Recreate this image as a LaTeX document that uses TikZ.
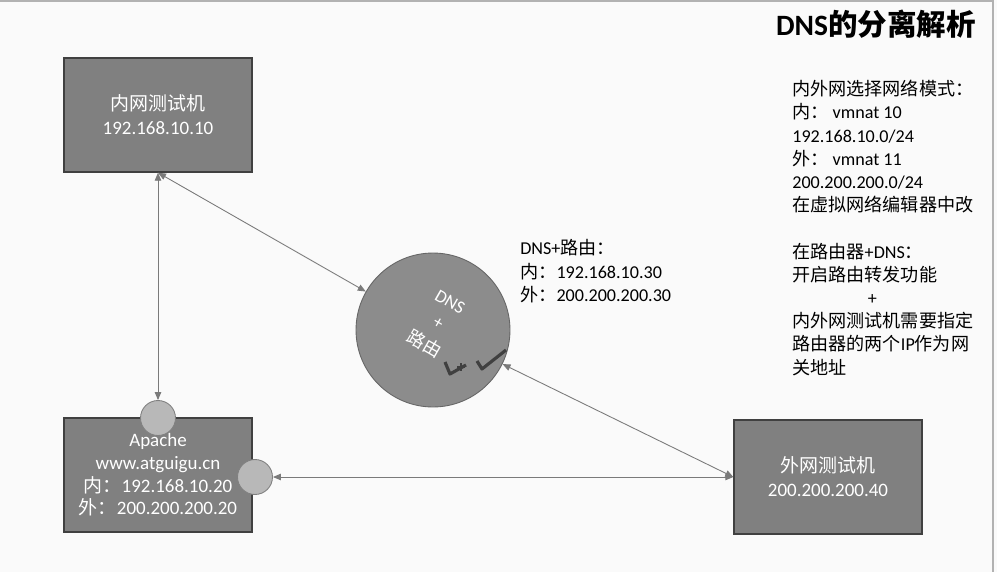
\documentclass[tikz,border=0pt]{standalone}
\usepackage{fontspec}
\setmainfont{Carlito}
\newfontfamily\cjk{Noto Sans CJK SC}
\newcommand\zh[1]{{\cjk #1}}
\usetikzlibrary{arrows.meta}
\definecolor{boxgray}{HTML}{808080}
\definecolor{linegray}{HTML}{7A7A7A}
\tikzset{
  pcbox/.style={draw=black!75, line width=0.8pt, fill=boxgray, text=white,
    minimum width=3.76cm, minimum height=2.28cm, align=center,
    font=\fontsize{10.8}{13.6}\selectfont},
  port/.style={circle, draw=boxgray, line width=0.5pt, fill=black!28, minimum size=0.7cm, inner sep=0pt},
  link/.style={draw=linegray, line width=0.5pt, {Triangle[length=1.6mm,width=1.3mm]}-{Triangle[length=1.6mm,width=1.3mm]}},
  note/.style={anchor=north west, align=left, inner sep=0pt, font=\fontsize{10.3}{13.4}\selectfont},
  intext/.style={text=white, rotate=-30, inner sep=0pt, font=\fontsize{10.3}{12}\selectfont}
}
\begin{document}
\begin{tikzpicture}[x=0.02cm,y=-0.02cm]
\fill[black!2] (0,0) rectangle (997,572);
\useasboundingbox (0,0) rectangle (997,572);
\draw[black!30, line width=0.8pt] (0,1) -- (993,1) -- (993,572);

% the three test machines
\node[pcbox] (inner) at (158,115) {\zh{内网测试机}\\192.168.10.10};
\node[pcbox, font=\fontsize{10.8}{12.9}\selectfont] (apache) at (158,475)
  {Apache\\www.atguigu.cn\\\zh{内：}192.168.10.20\\\zh{外：}200.200.200.20};
\node[pcbox] (outer) at (828,477) {\zh{外网测试机}\\200.200.200.40};

% dns + router
\node[circle, draw=black!60, line width=0.5pt, fill=black!45, minimum size=3.08cm] (dns) at (433,330) {};
\node[intext] (dnsa) at (450,302) {DNS};
\node[intext] (dnsb) at (438,323) {+};
\node[intext] (dnsc) at (425,344) {\zh{路由}};
\draw[black!75, line width=1.8pt, line join=round] (445,362) -- (450,374) -- (466,365);
\draw[black!75, line width=1.2pt] (457,367) -- (465,367) (461,363) -- (461,371);
\draw[black!75, line width=1.8pt, line join=round] (477,361) -- (482,369) -- (506,350);

\node[port] (p1) at (158,418) {};
\node[port] (p2) at (255,477) {};

% links
\draw[link] (inner.south) -- (p1.north);
\draw[link] (inner.south) -- (dns);
\draw[link] (dns) -- (outer.west);
\draw[link] (p2.east) -- (outer.west);

% texts
\node[note] (dnsinfo) at (520,239) {DNS+\zh{路由：}\\\zh{内：}192.168.10.30\\\zh{外：}200.200.200.30};
\node[anchor=north east, inner sep=0pt, font=\fontsize{16.8}{20}\selectfont\bfseries] (title) at (976,10)
  {DNS\zh{的分离解析}};
\node[note, font=\fontsize{10.3}{13.2}\selectfont] (hint) at (792,80)
  {\zh{内外网选择网络模式：}\\\zh{内：} vmnat 10\\192.168.10.0/24\\\zh{外：} vmnat 11\\200.200.200.0/24\\\zh{在虚拟网络编辑器中改}\\[13.2pt]
   \zh{在路由器}+DNS\zh{：}\\\zh{开启路由转发功能}\\\hspace*{43pt}+\\\zh{内外网测试机需要指定}\\\zh{路由器的两个}IP\zh{作为网}\\\zh{关地址}};
\end{tikzpicture}
\end{document}
